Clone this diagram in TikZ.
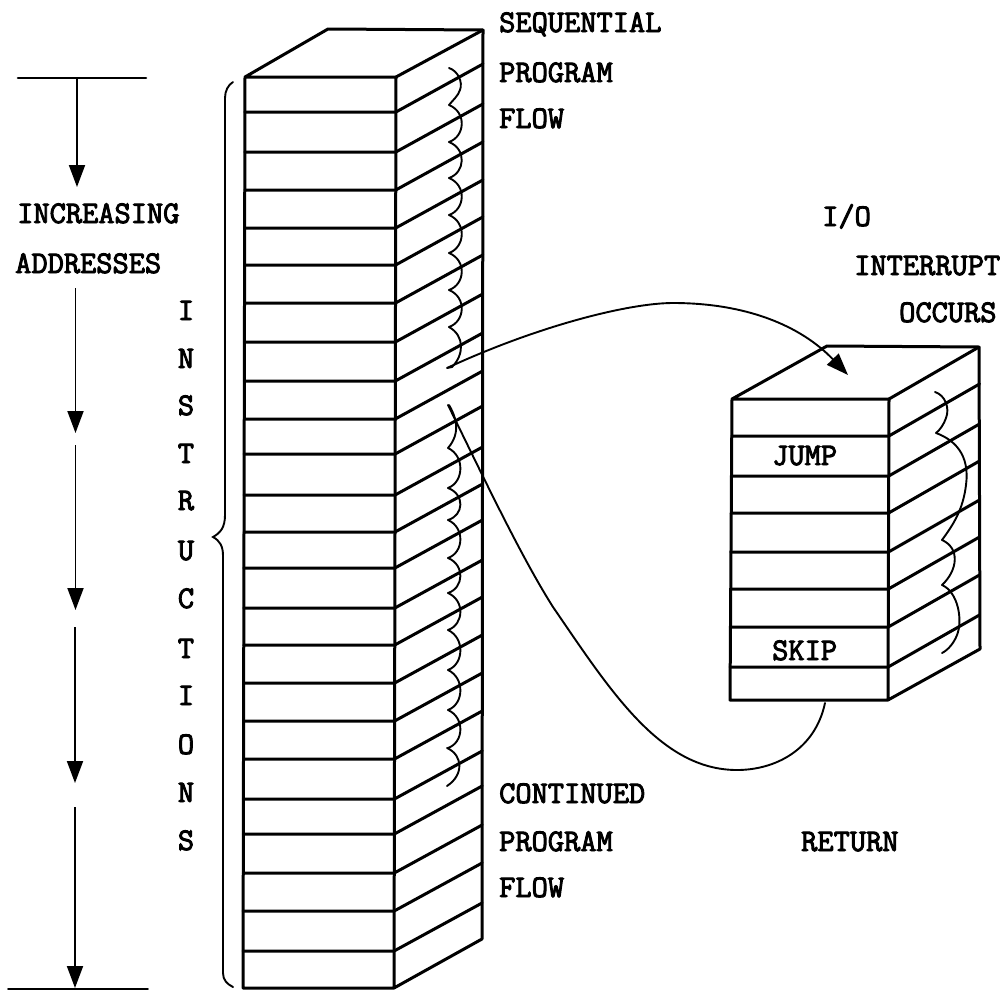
\documentclass[tikz,border=0pt]{standalone}
\usepackage{fontspec}
\setmonofont{Latin Modern Mono}[FakeBold=3]
\usetikzlibrary{arrows.meta}
\tikzset{
  heavy/.style={line width=3pt,line cap=round,line join=round},
  thin line/.style={line width=1.9pt,line cap=round,line join=round},
  solidtip/.style={-{Triangle[length=22pt,width=16pt]}},
  label/.style={inner sep=0pt,anchor=base west,font=\fontsize{31.5}{32}\selectfont\ttfamily},
  vlabel/.style={inner sep=0pt,anchor=base,font=\fontsize{31.5}{32}\selectfont\ttfamily}
}
\begin{document}
\begin{tikzpicture}[x=1pt,y=-1pt]
\useasboundingbox (0,0) rectangle (1002,991);
\fill[white] (0,0) rectangle (1002,991);

% tall block
\coordinate (tFL) at (245,77);
\coordinate (tFR) at (396,77);
\coordinate (tBL) at (328,29);
\coordinate (tBR) at (483,30);
\coordinate (bFL) at (243,988);
\coordinate (bFR) at (394,988);
\coordinate (bBR) at (482,939);
\draw[heavy] (bFR) -- (bFL) -- (tFL) -- (tBL) -- (tBR) -- (bBR) -- (bFR) -- (tFR) -- (tFL);
\draw[heavy] (tFR) -- (tBR);
\foreach \y in {112,152,190,228,265,303,342,381,419,454,495,532,568,608,645,683,721,759,799,834,873,911,951}{
  \pgfmathsetmacro{\xa}{245-2*(\y-77)/911}
  \pgfmathsetmacro{\xb}{396-2*(\y-77)/911}
  \pgfmathsetmacro{\xc}{483-1*(\y-77)/911}
  \draw[heavy] (\xa,\y) -- (\xb,\y) -- (\xc,\y-48);
}

% small block
\coordinate (sFL) at (732,399);
\coordinate (sFR) at (889,399);
\coordinate (sBL) at (827,346);
\coordinate (sBR) at (979,347);
\coordinate (uFL) at (730,700);
\coordinate (uFR) at (888,700);
\coordinate (uBR) at (980,649);
\draw[heavy] (uFR) -- (uFL) -- (sFL) -- (sBL) -- (sBR) -- (uBR) -- (uFR) -- (sFR) -- (sFL);
\draw[heavy] (sFR) -- (sBR);
\foreach \y in {436,476,513,552,589,627,667}{
  \pgfmathsetmacro{\xa}{732-2*(\y-399)/301}
  \pgfmathsetmacro{\xb}{889-1*(\y-399)/301}
  \draw[heavy] (\xa,\y) -- (\xb,\y) -- (979.5,\y-52);
}

% flow wiggles, tall block, upper part
\draw[thin line] (449,68) .. controls (458,71) and (463,82) .. (460,90) .. controls (458,96) and (453,100) .. (449,105);
\foreach \a/\b in {105/142,142/178,178/215,215/253,253/290,290/327}{
  \draw[thin line] (449,\a) .. controls (467,\a+0.2*\b-0.2*\a) and (465,\a+0.85*\b-0.85*\a) .. (449,\b);
}
\draw[thin line] (449,327) .. controls (465,336) and (464,355) .. (452,367) -- (447,368);

% flow wiggles, tall block, lower part
\draw[thin line] (449,405) .. controls (455,415) and (462,432) .. (448,448);
\foreach \a/\b in {448/488,488/520,520/558,558/593,593/630,630/670,670/710,710/748}{
  \draw[thin line] (448,\a) .. controls (465,\a+0.2*\b-0.2*\a) and (464,\a+0.85*\b-0.85*\a) .. (448,\b);
}
\draw[thin line] (447,748) .. controls (463,755) and (464,775) .. (447,786);

% flow wiggles, small block
\draw[thin line] (935,392) .. controls (945,395) and (950,408) .. (946,418) .. controls (944,424) and (940,430) .. (936,433)
  .. controls (955,440) and (970,455) .. (966,485) .. controls (963,510) and (953,525) .. (942,540)
  .. controls (960,548) and (958,570) .. (942,585)
  .. controls (958,592) and (963,620) .. (957,635) .. controls (954,643) and (948,650) .. (942,653);

% interrupt curve
\coordinate (irqStart) at (447,368);
\coordinate (irqEnd) at (848,375);
\draw[line width=1.9pt,solidtip] (irqStart) .. controls (540,325) and (630,303) .. (673,303)
  .. controls (745,303) and (800,325) .. (irqEnd);

% return curve
\coordinate (retStart) at (825,703);
\coordinate (retEnd) at (448,405);
\draw[line width=1.9pt,line cap=round] (retStart) .. controls (815,750) and (775,770) .. (737,770)
  .. controls (660,770) and (610,690) .. (553,607) .. controls (520,555) and (480,470) .. (retEnd);

% address axis
\coordinate (barTopL) at (18,78);
\coordinate (barTopR) at (146,78);
\coordinate (barBotL) at (8,989);
\coordinate (barBotR) at (148,989);
\draw[line width=2.6pt,line cap=round] (barTopL) -- (barTopR);
\draw[line width=1.6pt,line cap=round] (barBotL) -- (barBotR);
\draw[line width=1.9pt,solidtip] (77,78) -- (77,187);
\draw[line width=1.9pt,solidtip] (75.5,288) -- (75.5,433);
\draw[line width=1.9pt,solidtip] (75.5,445) -- (75.5,610);
\draw[line width=1.9pt,solidtip] (75,627) -- (75,783);
\draw[line width=1.9pt,solidtip] (75,807) -- (75,988);

% brace
\draw[line width=1.9pt,line cap=round] (233,82) .. controls (228,85) and (225,91) .. (225,98)
  -- (225,515) .. controls (225,528) and (220,533) .. (213,537)
  .. controls (220,541) and (223,546) .. (223,556)
  -- (223,973) .. controls (223,980) and (227,984) .. (233,987);

% labels
\node[label] (incr) at (17,223) {INCREASING};
\node[label] (addr) at (15,273) {ADDRESSES};
\node[label] (seq) at (499,32) {SEQUENTIAL};
\node[label] (prog) at (499,82) {PROGRAM};
\node[label] (flow) at (499,128) {FLOW};
\node[label] (io) at (822,226) {I/O};
\node[label] (int) at (854,275) {INTERRUPT};
\node[label] (occ) at (899,322) {OCCURS};
\node[label] (jump) at (772,465) {JUMP};
\node[label] (skip) at (772,660) {SKIP};
\node[label] (cont) at (499,803) {CONTINUED};
\node[label] (prog2) at (499,851) {PROGRAM};
\node[label] (flow2) at (499,897) {FLOW};
\node[label] (ret) at (801,851) {RETURN};
\node[vlabel] (v1) at (186,320) {I};
\node[vlabel] (v2) at (186,368) {N};
\node[vlabel] (v3) at (186,415) {S};
\node[vlabel] (v4) at (186,463) {T};
\node[vlabel] (v5) at (186,510) {R};
\node[vlabel] (v6) at (186,560) {U};
\node[vlabel] (v7) at (186,608) {C};
\node[vlabel] (v8) at (186,658) {T};
\node[vlabel] (v9) at (186,705) {I};
\node[vlabel] (v10) at (186,754) {O};
\node[vlabel] (v11) at (186,802) {N};
\node[vlabel] (v12) at (186,850) {S};
\end{tikzpicture}
\end{document}
